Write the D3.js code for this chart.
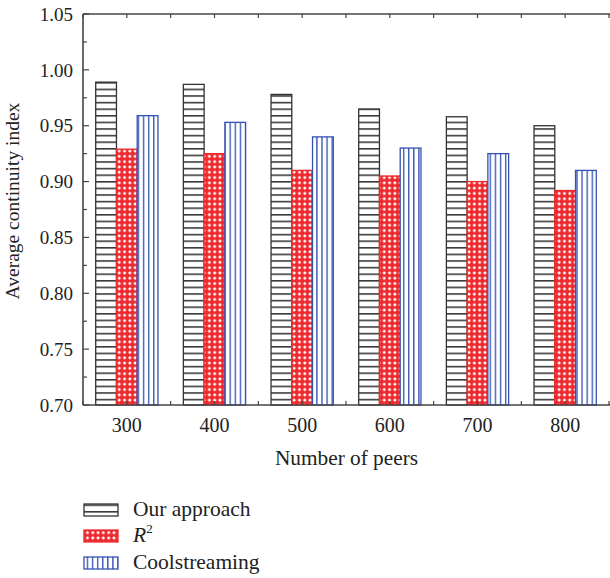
<!DOCTYPE html>
<html><head><meta charset="utf-8">
<script src="https://cdn.jsdelivr.net/npm/d3@7"></script>
<style>body{margin:0;background:#fff}svg{display:block}text{font-family:"Liberation Serif","DejaVu Serif",serif;fill:#222}</style>
</head><body><svg id="c" width="610" height="578"></svg>
<script>
const categories = [300, 400, 500, 600, 700, 800];
const seriesNames = ["Our approach", "R2", "Coolstreaming"];
const ourApproach = [0.989, 0.987, 0.978, 0.965, 0.958, 0.950];
const r2 = [0.929, 0.925, 0.910, 0.905, 0.900, 0.892];
const coolstreaming = [0.959, 0.953, 0.940, 0.930, 0.925, 0.910];
const yTicks = [0.70, 0.75, 0.80, 0.85, 0.90, 0.95, 1.00, 1.05];

const series = [ourApproach, r2, coolstreaming];
const svg = d3.select("#c");
const L = 83, R = 609, T = 14, B = 405;
const x = d3.scaleLinear().domain([250, 850]).range([L, R]);
const y = d3.scaleLinear().domain([0.70, 1.05]).range([B, T]);

// patterns
const defs = svg.append("defs");
const ph = defs.append("pattern").attr("id","pH").attr("patternUnits","userSpaceOnUse").attr("width",10).attr("height",6.6).attr("y",T+2);
ph.append("rect").attr("width",10).attr("height",6.6).attr("fill","#fff");
ph.append("rect").attr("y",0).attr("width",10).attr("height",1.6).attr("fill","#3a3a3a");
const pc = defs.append("pattern").attr("id","pX").attr("patternUnits","userSpaceOnUse").attr("width",5.3).attr("height",5.3);
pc.append("rect").attr("width",5.3).attr("height",5.3).attr("fill","#ee2a2e");
pc.append("path").attr("d","M2.65,0.85 L4.45,2.65 L2.65,4.45 L0.85,2.65 Z").attr("fill","#fff");
const pv = defs.append("pattern").attr("id","pV").attr("patternUnits","userSpaceOnUse").attr("width",5.1).attr("height",10);
pv.append("rect").attr("width",5.1).attr("height",10).attr("fill","#fff");
pv.append("rect").attr("x",0).attr("width",1.4).attr("height",10).attr("fill","#3d5cb6");
const fills = ["url(#pH)","url(#pX)","url(#pV)"];
const strokes = ["#333","#ee2a2e","#3652b0"];

const groupW = 71; // data units
const bw = groupW/3;
series.forEach((vals, s) => {
  svg.append("g").selectAll("rect").data(categories).join("rect")
    .attr("x", (c)=> x(c - groupW/2 + s*bw))
    .attr("width", (c)=> x(c - groupW/2 + (s+1)*bw) - x(c - groupW/2 + s*bw))
    .attr("y", (c,i)=> y(vals[i]))
    .attr("height", (c,i)=> B - y(vals[i]))
    .attr("fill", fills[s])
    .attr("stroke", strokes[s]).attr("stroke-width", 1.3);
});

// axes
const minorY = d3.range(0, 15).map(i => 0.70 + i*0.025);
const xt = d3.range(250, 851, 50);
const axCol = "#444";
const g = svg.append("g");
g.append("line").attr("x1",L).attr("x2",L).attr("y1",T).attr("y2",B).attr("stroke",axCol).attr("stroke-width",1.6);
g.append("line").attr("x1",L).attr("x2",R+1).attr("y1",T).attr("y2",T).attr("stroke",axCol).attr("stroke-width",1.6);
g.append("line").attr("x1",L).attr("x2",R+1).attr("y1",B).attr("y2",B).attr("stroke",axCol).attr("stroke-width",1.6);
g.selectAll(".yt").data(minorY).join("line")
  .attr("x1",L).attr("x2",(d,i)=> L + (i%2===0?6:4))
  .attr("y1",d=>y(d)).attr("y2",d=>y(d)).attr("stroke",axCol).attr("stroke-width",1.2);
g.selectAll(".xtt").data(xt).join("line")
  .attr("x1",d=>x(d)).attr("x2",d=>x(d)).attr("y1",T).attr("y2",T+4).attr("stroke",axCol).attr("stroke-width",1.2);
g.selectAll(".xtb").data(xt).join("line")
  .attr("x1",d=>x(d)).attr("x2",d=>x(d)).attr("y1",B).attr("y2",B-4).attr("stroke",axCol).attr("stroke-width",1.2);

g.selectAll(".yl").data(yTicks).join("text")
  .attr("x", L-10).attr("y", d=>y(d)).attr("dy","0.35em").attr("text-anchor","end")
  .attr("font-size",19).text(d=>d.toFixed(2));
g.selectAll(".xl").data(categories).join("text")
  .attr("x", d=>x(d)).attr("y", B+27).attr("text-anchor","middle")
  .attr("font-size",20).text(d=>d);
svg.append("text").attr("x", 346.5).attr("y", 465).attr("text-anchor","middle").attr("font-size",21.3).text("Number of peers");
svg.append("text").attr("transform",`translate(19,201) rotate(-90)`).attr("text-anchor","middle").attr("font-size",19.5).text("Average continuity index");

// legend
const lg = svg.append("g");
const ly = [504, 530, 557];
seriesNames.forEach((n,i)=>{
  lg.append("rect").attr("x",84).attr("y",ly[i]).attr("width",34).attr("height",12)
    .attr("fill",fills[i]).attr("stroke",strokes[i]).attr("stroke-width",1.3);
  const t = lg.append("text").attr("x",133).attr("y",ly[i]+12).attr("font-size",21.5);
  if (n==="R2") { t.append("tspan").attr("font-style","italic").text("R"); t.append("tspan").attr("font-size",13).attr("dy",-9).text("2"); }
  else t.text(n);
});
</script></body></html>
